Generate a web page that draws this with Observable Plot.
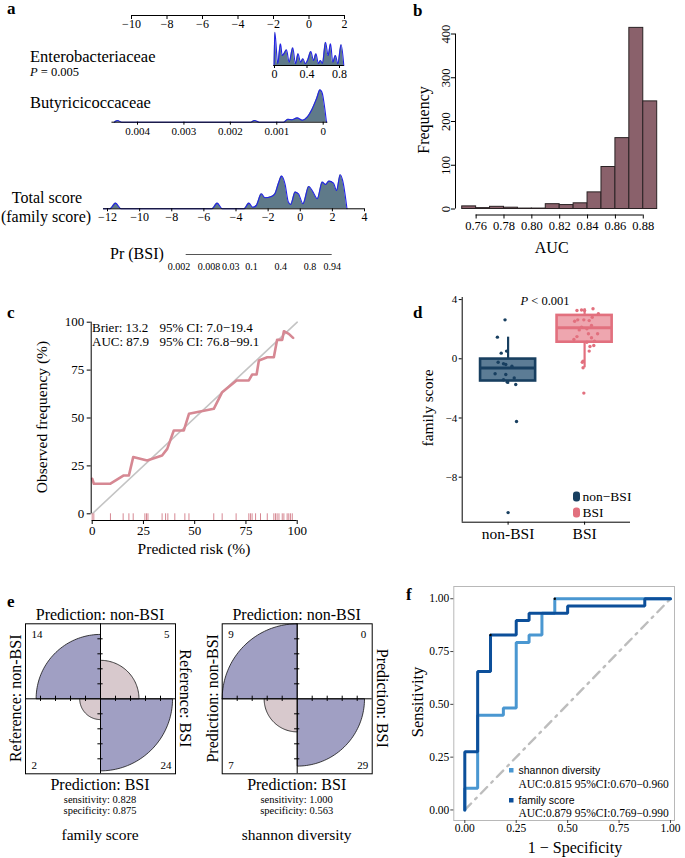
<!DOCTYPE html>
<html><head><meta charset="utf-8">
<script src="https://cdn.jsdelivr.net/npm/d3@7"></script>
<script src="https://cdn.jsdelivr.net/npm/@observablehq/plot@0.6"></script>
<style>
html,body{margin:0;padding:0;background:#fff}
#fig{position:relative;width:685px;height:858px;overflow:hidden;background:#fff}
</style></head><body><div id="fig"></div>
<script>
// ================= DATA =================
// --- a: nomogram ---
const pointsTicks = [-10, -8, -6, -4, -2, 0, 2];
const enteroValue   = [-0.005, 0.004, 0.04, 0.074, 0.095, 0.115, 0.148, 0.18, 0.225, 0.258, 0.29, 0.32, 0.35, 0.38, 0.41, 0.447, 0.48, 0.51, 0.54, 0.566, 0.59, 0.628, 0.66, 0.69, 0.717, 0.75, 0.78, 0.82, 0.853];
const enteroDensity = [0, 33.3, 2, 21.7, 10, 11.7, 15.7, 3.3, 17.7, 1.7, 11.7, 3.3, 6.7, 1.7, 5.7, 14, 5, 11.7, 2, 5, 2, 23.3, 10, 21.7, 3.3, 10, 1.7, 20.7, 0];
const enteroTicks = [0, 0.4, 0.8];
const enteroAxis = [-0.01, 0.86];
const butyrValue   = [0.0045, 0.00443, 0.00434, 0.00156, 0.00148, 0.00138, 0.00085, 0.00076, 0.00067, 0.00056, 0.00045, 0.00034, 0.00024, 0.00014, 0.00007, 0.00002, -0.00003, -0.00007];
const butyrDensity = [0, 1.7, 0, 0, 1.7, 0, 0, 3, 2.5, 4.3, 2, 5.3, 13, 24, 32.3, 29, 15, 0];
const butyrTicks = [0.004, 0.003, 0.002, 0.001, 0];
const butyrAxis = [0.00455, -0.0001];
const totalValue   = [-12.25, -11.85, -11.5, -11.15, -5.5, -5.17, -4.85, -3.5, -3.2, -2.95, -2.74, -2.42, -2.2, -1.79, -1.58, -1.37, -1.16, -0.95, -0.74, -0.6, -0.32, -0.11, 0.17, 0.53, 0.8, 1.06, 1.37, 1.58, 1.79, 2.07, 2.26, 2.49, 2.64, 2.91];
const totalDensity = [0, 0, 5.7, 0, 0, 5.7, 0, 0, 5.7, 1.5, 3.3, 15, 11, 12.3, 15, 25, 32.7, 25, 6.7, 4.3, 16.7, 15, 5, 22.3, 16.7, 10, 26.7, 24.3, 27.7, 25.7, 18.3, 34, 28.3, 0];
const totalTicks = [-12, -10, -8, -6, -4, -2, 0, 2, 4];
const totalAxis = [-12.25, 4];
const prTicks = [0.002, 0.008, 0.03, 0.1, 0.4, 0.8, 0.94];

// --- b: bootstrap AUC histogram ---
const aucBinStart = [0.75, 0.76, 0.77, 0.78, 0.79, 0.80, 0.81, 0.82, 0.83, 0.84, 0.85, 0.86, 0.87, 0.88];
const aucBinWidth = 0.01;
const aucCounts = [6, 2, 5, 3, 1, 1, 11, 9, 13, 38, 96, 162, 414, 246];
const aucTicks = [0.76, 0.78, 0.80, 0.82, 0.84, 0.86, 0.88];
const freqTicks = [0, 100, 200, 300, 400];

// --- c: calibration ---
const calPred = [0, 0.8, 8.9, 15.4, 17.9, 20, 26.8, 34.1, 36.6, 39.8, 44.7, 47.2, 59.3, 63.4, 70.4, 76.4, 78, 80.2, 81.3, 85.4, 88.6, 90.2, 92.7, 93.5, 95.9, 98];
const calObs  = [18.3, 15.7, 15.7, 20, 20, 29.6, 27.8, 30.4, 33.9, 43.5, 43.5, 52.2, 54.8, 63.5, 69.6, 69.6, 72.7, 72.7, 80, 81.7, 81.7, 90.8, 90.8, 95.3, 93.9, 91.8];
const rugRisk = [0, 0.8, 8.9, 15.1, 17.9, 20, 25.7, 26.5, 27.2, 34.1, 35.8, 36.9, 40.3, 45.2, 47.2, 59.3, 63.4, 70.2, 76.4, 77.2, 78, 79.7, 82.1, 85.4, 88.6, 89.4, 90.2, 91.1, 92.7, 93.5, 95.1, 95.9, 96.7, 97.6];
const calTicks = [0, 25, 50, 75, 100];

// --- d: family score by group ---
const dGroups = ["non-BSI", "BSI"];
const dQ1  = [-1.5, 1.12];
const dMed = [-0.63, 2.1];
const dQ3  = [-0.02, 2.93];
const dLo  = [-1.72, -0.61];
const dHi  = [1.46, 3.38];
const nonBsiScore  = [2.63, 1.46, 0.52, 0.38, -0.23, -0.34, -0.39, -0.5, -1.01, -1.06, -1.3, -1.42, -1.58, -1.74, -4.24, -10.39];
const nonBsiJitter = [-0.04, -0.14, -0.02, -0.09, -0.13, -0.06, -0.03, 0.05, -0.17, -0.03, 0.08, -0.06, -0.01, 0.10, 0.11, 0.00];
const bsiScore  = [3.26, 3.30, 3.26, 3.38, 3.05, 2.54, 2.63, 2.63, 2.58, 2.25, 2.14, 2.03, 1.69, 1.5, 1.69, 1.42, 1.19, 1.12, 0.83, 0.9, 0.52, -0.16, -0.23, -0.61, -2.32, 1.95, 2.81, 1.3];
const bsiJitter = [-0.10, -0.04, 0.0, 0.11, 0.18, -0.13, -0.09, -0.01, 0.06, 0.09, -0.04, 0.03, 0.05, -0.10, 0.17, 0.09, 0.13, 0.03, 0.07, 0.12, 0.06, -0.02, -0.03, -0.02, -0.01, -0.07, 0.10, -0.14];
const dTicks = [-8, -4, 0, 4];

// --- e: fourfold (TL, TR, BL, BR) ---
const famCounts  = [14, 5, 2, 24];
const shanCounts = [9, 0, 7, 29];

// --- f: ROC ---
const famFpr  = [0, 0, 0.0625, 0.0625, 0.125, 0.125, 0.25, 0.25, 0.3125, 0.3125, 0.5, 0.5, 0.875, 0.875, 1];
const famTpr  = [0, 0.276, 0.276, 0.655, 0.655, 0.828, 0.828, 0.897, 0.897, 0.931, 0.931, 0.966, 0.966, 1, 1];
const shanFpr = [0, 0, 0.0625, 0.0625, 0.1875, 0.1875, 0.25, 0.25, 0.3125, 0.3125, 0.375, 0.375, 0.4375, 0.4375, 1];
const shanTpr = [0, 0.103, 0.103, 0.448, 0.448, 0.483, 0.483, 0.793, 0.793, 0.828, 0.828, 0.931, 0.931, 1, 1];
const cutFpr = [0.4375, 0.125];
const cutTpr = [1, 0.828];
const rocTicks = [0, 0.25, 0.5, 0.75, 1];

// ================= RENDER =================
const W = 685, H = 858;
const FONT = '"Liberation Serif","Times New Roman",Times,serif';
const SANS = '"Liberation Sans",Arial,Helvetica,sans-serif';
const fig = document.getElementById("fig");
function box(x0, x1, y0, y1) {
  return {width: W, height: H, marginLeft: x0, marginRight: W - x1, marginTop: y0, marginBottom: H - y1};
}
function add(opts) {
  const svg = Plot.plot({...opts, style: `position:absolute;left:0;top:0;background:transparent;overflow:visible;font-family:${FONT};font-size:12px;color:#000;`});
  fig.appendChild(svg);
}
const minus = d => (d < 0 ? "\u2212" + Math.abs(d) : String(d));
const zip = (xs, ys) => xs.map((x, i) => ({x, y: ys[i]}));
const logit = p => Math.log(p / (1 - p));

const DFILL = "#5f7a89", DLINE = "#2222e8";

// ---- a ----
add({...box(131, 344, 10, 15), x: {domain: [pointsTicks[0], pointsTicks[pointsTicks.length - 1]], label: null}, y: {domain: [0, 1], axis: null, label: null},
  marks: [
    Plot.ruleY([0], {x1: pointsTicks[0], x2: pointsTicks[pointsTicks.length - 1]}),
    Plot.axisX(pointsTicks, {anchor: "bottom", tickSize: 4, tickPadding: 0, fontSize: 12, tickFormat: minus, label: null})
  ]});

const entero = zip(enteroValue, enteroDensity);
add({...box(274, 339, 31, 65), x: {domain: [0, 0.8], label: null}, y: {domain: [0, 34], axis: null, label: null},
  marks: [
    Plot.areaY(entero, {x: "x", y: "y", fill: DFILL, curve: "monotone-x"}),
    Plot.lineY(entero, {x: "x", y: "y", stroke: DLINE, strokeWidth: 1.1, curve: "monotone-x"}),
    Plot.ruleY([0], {x1: enteroAxis[0], x2: enteroAxis[1]}),
    Plot.axisX(enteroTicks, {tickSize: 3, tickPadding: 1, fontSize: 12, tickFormat: d => String(d), label: null})
  ]});

const butyr = zip(butyrValue, butyrDensity);
add({...box(137, 322.7, 87.7, 121.7), x: {domain: [0.004, 0], label: null}, y: {domain: [0, 34], axis: null, label: null},
  marks: [
    Plot.areaY(butyr, {x: "x", y: "y", fill: DFILL, curve: "monotone-x"}),
    Plot.lineY(butyr, {x: "x", y: "y", stroke: DLINE, strokeWidth: 1.1, curve: "monotone-x"}),
    Plot.ruleY([0], {x1: butyrAxis[0], x2: butyrAxis[1]}),
    Plot.axisX(butyrTicks, {tickSize: 3, tickPadding: 2, fontSize: 11, tickFormat: d => (d === 0 ? "0" : d.toFixed(3)), label: null})
  ]});

const total = zip(totalValue, totalDensity);
add({...box(107, 364, 174.3, 208.3), x: {domain: [totalTicks[0], totalTicks[totalTicks.length - 1]], label: null}, y: {domain: [0, 34], axis: null, label: null},
  marks: [
    Plot.areaY(total, {x: "x", y: "y", fill: DFILL, curve: "monotone-x"}),
    Plot.lineY(total, {x: "x", y: "y", stroke: DLINE, strokeWidth: 1.1, curve: "monotone-x"}),
    Plot.ruleY([0], {x1: totalAxis[0], x2: totalAxis[1]}),
    Plot.axisX(totalTicks, {tickSize: 3, tickPadding: 1, fontSize: 12, tickFormat: minus, label: null})
  ]});

const prObjs = prTicks.map(p => ({p, lx: logit(p)}));
add({...box(185.7, 331.7, 250, 254), x: {domain: [logit(prTicks[0]), logit(prTicks[prTicks.length - 1])], axis: null, label: null}, y: {domain: [0, 1], axis: null, label: null},
  marks: [
    Plot.ruleY([0], {x1: prObjs[0].lx, x2: prObjs[prObjs.length - 1].lx, stroke: "#555"}),
    Plot.text(prObjs.slice(0, 1), {x: "lx", y: 0, text: d => String(d.p), dy: 12, dx: 4, textAnchor: "end", fontSize: 10}),
    Plot.text(prObjs.slice(1), {x: "lx", y: 0, text: d => String(d.p), dy: 12, fontSize: 10})
  ]});

// ---- b ----
const bins = aucBinStart.map((s, i) => ({x1: s, x2: s + aucBinWidth, n: aucCounts[i]}));
add({...box(461.7, 656.7, 33.5, 208.5), x: {domain: [0.75, 0.89], label: null}, y: {domain: [0, 400], label: null},
  marks: [
    Plot.rectY(bins, {x1: "x1", x2: "x2", y: "n", fill: "#8a616b", stroke: "#2a2224", strokeWidth: 1}),
    Plot.ruleY([0], {x1: aucTicks[0], x2: aucTicks[aucTicks.length - 1], dy: 6}),
    Plot.axisX(aucTicks, {dy: 6, tickSize: 4, tickPadding: 2, fontSize: 12.5, tickFormat: d => d.toFixed(2), label: null}),
    Plot.ruleX([0.75], {y1: freqTicks[0], y2: freqTicks[freqTicks.length - 1], dx: -6.7}),
    Plot.axisY(freqTicks, {dx: -6.7, tickSize: 4, tickPadding: 2, tickRotate: -90, fontSize: 12.5, label: null})
  ]});

// ---- c ----
const PINK = "#d68893";
add({...box(91.7, 296.7, 321.7, 513.3), x: {domain: [0, 100], label: null}, y: {domain: [0, 100], label: null},
  marks: [
    Plot.line([{x: 0, y: 0}, {x: 100, y: 100}], {x: "x", y: "y", stroke: "#c4c4c4", strokeWidth: 1.6}),
    Plot.line(zip(calPred, calObs), {x: "x", y: "y", stroke: PINK, strokeWidth: 2.6}),
    Plot.ruleX(rugRisk, {x: d => d, y1: 0, y2: 0, insetBottom: -6.7, stroke: PINK, strokeWidth: 1}),
    Plot.ruleY([0], {x1: 0, x2: 100, dy: 6.7}),
    Plot.axisX(calTicks, {dy: 6.7, tickSize: 4, tickPadding: 1, fontSize: 13, label: null}),
    Plot.ruleX([0], {y1: 0, y2: 100, dx: -1}),
    Plot.axisY(calTicks, {dx: -1, tickSize: 4, tickPadding: 3, fontSize: 13, label: null})
  ]});

// ---- d ----
const NAVY = "#183f60", NAVYF = "#5c7c95", RED = "#e2707e", REDF = "#eea6af";
const stats = dGroups.map((g, i) => ({g: i + 1, q1: dQ1[i], med: dMed[i], q3: dQ3[i], lo: dLo[i], hi: dHi[i],
  stroke: i === 0 ? NAVY : RED, fill: i === 0 ? NAVYF : REDF}));
const pts = [
  ...nonBsiScore.map((v, i) => ({g: 1, j: nonBsiJitter[i], v})),
  ...bsiScore.map((v, i) => ({g: 2, j: bsiJitter[i], v}))
];
const HW = 0.36;
add({...box(461.7, 630, 297, 521.7), x: {domain: [0.4, 2.6], label: null}, y: {domain: [-11.04, 4.14], label: null},
  marks: [
    Plot.ruleX([0.4]),
    Plot.ruleY([-11.04]),
    Plot.axisY(dTicks, {tickSize: 3, tickPadding: 2, fontSize: 11, tickFormat: minus, label: null}),
    Plot.axisX([1, 2], {tickSize: 3, tickPadding: 3, fontSize: 15.5, tickFormat: d => dGroups[d - 1], label: null}),
    Plot.ruleX(stats, {x: "g", y1: "lo", y2: "q1", stroke: d => d.stroke, strokeWidth: 2.2}),
    Plot.ruleX(stats, {x: "g", y1: "q3", y2: "hi", stroke: d => d.stroke, strokeWidth: 2.2}),
    Plot.rect(stats, {x1: d => d.g - HW, x2: d => d.g + HW, y1: "q1", y2: "q3", fill: d => d.fill, stroke: d => d.stroke, strokeWidth: 2.6}),
    Plot.ruleY(stats, {y: "med", x1: d => d.g - HW, x2: d => d.g + HW, stroke: d => d.stroke, strokeWidth: 3}),
    Plot.dot(pts, {x: d => d.g + d.j, y: "v", r: 1.7, fill: d => (d.g === 1 ? NAVY : RED), stroke: null})
  ]});

// ---- e ----
const DIAG = "#a09fc3", OFF = "#d8c9cd";
function quadrants(counts) {
  const top = counts[0] + counts[1], bot = counts[2] + counts[3];
  const props = [counts[0] / top, counts[1] / top, counts[2] / bot, counts[3] / bot];
  const start = [90, 0, 180, 270];
  const out = [];
  props.forEach((p, q) => {
    const r = Math.sqrt(p);
    out.push({q, x: 0, y: 0});
    for (let a = 0; a <= 90; a += 2) {
      const t = (start[q] + a) * Math.PI / 180;
      out.push({q, x: r * Math.cos(t), y: r * Math.sin(t)});
    }
    out.push({q, x: 0, y: 0});
  });
  return out;
}
const ffTicks = [-0.8, -0.6, -0.4, -0.2, 0.2, 0.4, 0.6, 0.8];
function fourfold(x0, counts) {
  const q = quadrants(counts);
  add({...box(x0, x0 + 150, 623.3, 773.3), x: {domain: [-1, 1], axis: null, label: null}, y: {domain: [-1, 1], axis: null, label: null},
    marks: [
      Plot.line(q.filter(d => d.q === 0 || d.q === 3), {x: "x", y: "y", z: "q", fill: DIAG, stroke: "#111", strokeWidth: 0.8}),
      Plot.line(q.filter(d => d.q === 1 || d.q === 2), {x: "x", y: "y", z: "q", fill: OFF, stroke: "#111", strokeWidth: 0.8}),
      Plot.frame({stroke: "#000", strokeWidth: 1}),
      Plot.ruleX([0], {stroke: "#000"}),
      Plot.ruleY([0], {stroke: "#000"}),
      Plot.ruleX(ffTicks, {x: d => d, y1: -0.035, y2: 0.035, stroke: "#000"}),
      Plot.ruleY(ffTicks, {y: d => d, x1: -0.035, x2: 0.035, stroke: "#000"}),
      Plot.text([counts[0]], {text: d => String(d), frameAnchor: "top-left", dx: 6, dy: 6, fontSize: 11}),
      Plot.text([counts[1]], {text: d => String(d), frameAnchor: "top-right", dx: -6, dy: 6, fontSize: 11}),
      Plot.text([counts[2]], {text: d => String(d), frameAnchor: "bottom-left", dx: 6, dy: -5, fontSize: 11}),
      Plot.text([counts[3]], {text: d => String(d), frameAnchor: "bottom-right", dx: -4, dy: -5, fontSize: 11})
    ]});
}
fourfold(25, famCounts);
fourfold(221.7, shanCounts);

// ---- f ----
const LBLUE = "#4a97d1", DBLUE = "#0c4f9a";
add({...box(453.3, 674, 586, 820), x: {domain: [-0.0535, 1.0195], label: null}, y: {domain: [-0.05, 1.058], label: null},
  marks: [
    Plot.frame({stroke: "#b8b8b8"}),
    Plot.axisX(rocTicks, {tickSize: 3, tickPadding: 0.5, fontSize: 11.5, stroke: "#444", tickFormat: d => d.toFixed(2), label: null}),
    Plot.axisY(rocTicks, {tickSize: 3, tickPadding: 1.5, fontSize: 11.5, stroke: "#444", tickFormat: d => d.toFixed(2), label: null}),
    Plot.line([{x: 0, y: 0}, {x: 1, y: 1}], {x: "x", y: "y", stroke: "#bdbdbd", strokeWidth: 2.4, strokeDasharray: "9,6,2,6"}),
    Plot.line(zip(shanFpr, shanTpr), {x: "x", y: "y", stroke: LBLUE, strokeWidth: 3, strokeLinejoin: "miter"}),
    Plot.line(zip(famFpr, famTpr), {x: "x", y: "y", stroke: DBLUE, strokeWidth: 3, strokeLinejoin: "miter"}),
    Plot.dot(zip(cutFpr, cutTpr), {x: "x", y: "y", r: 1.2, fill: "#000", stroke: null})
  ]});

// ================= TEXT OVERLAY =================
const ov = d3.select(fig).append("svg").attr("width", W).attr("height", H)
  .attr("style", `position:absolute;left:0;top:0;overflow:visible;font-family:${FONT}`);
function T(x, y, parts, o = {}) {
  const t = ov.append("text").attr("x", x).attr("y", y).attr("font-size", o.size || 15)
    .attr("text-anchor", o.anchor || "start").attr("fill", o.fill || "#000");
  if (o.weight) t.attr("font-weight", o.weight);
  if (o.family) t.attr("font-family", o.family);
  if (o.baseline) t.attr("dominant-baseline", o.baseline);
  if (o.rotate) t.attr("transform", `rotate(${o.rotate},${x},${y})`);
  (Array.isArray(parts) ? parts : [[parts]]).forEach(([s, it]) => {
    const sp = t.append("tspan").text(s);
    if (it) sp.attr("font-style", "italic");
  });
}
// panel letters
T(7, 14, "a", {size: 17, weight: "bold"});
T(413, 16, "b", {size: 17, weight: "bold"});
T(7, 318, "c", {size: 17, weight: "bold"});
T(413, 318, "d", {size: 17, weight: "bold"});
T(7, 607, "e", {size: 17, weight: "bold"});
T(406, 600, "f", {size: 17, weight: "bold"});

// a
T(30, 61.5, "Enterobacteriaceae", {size: 16.5});
T(30, 75.5, [["P", true], [" = 0.005"]], {size: 12.5});
T(30, 108, "Butyricicoccaceae", {size: 16.5});
T(47, 202.5, "Total score", {size: 16, anchor: "middle"});
T(46, 221.5, "(family score)", {size: 16, anchor: "middle"});
T(110, 258.5, "Pr (BSI)", {size: 16});

// b
T(423, 120, "Frequency", {size: 16, anchor: "middle", baseline: "central", rotate: -90});
T(551.7, 253, "AUC", {size: 16, anchor: "middle"});

// c
T(92, 332, "Brier: 13.2", {size: 13});
T(159.5, 332, "95% CI: 7.0\u221219.4", {size: 13});
T(92, 346, "AUC: 87.9", {size: 13});
T(159.5, 346, "95% CI: 76.8\u221299.1", {size: 13});
T(41, 417, "Observed frequency (%)", {size: 15.5, anchor: "middle", baseline: "central", rotate: -90});
T(194, 554, "Predicted risk (%)", {size: 15.5, anchor: "middle"});

// d
T(545, 304.5, [["P", true], [" < 0.001"]], {size: 12.5, anchor: "middle"});
T(427, 408, "family score", {size: 15.5, anchor: "middle", baseline: "central", rotate: -90});
ov.append("rect").attr("x", 573).attr("y", 491.5).attr("width", 7).attr("height", 10).attr("rx", 3).attr("fill", NAVY);
ov.append("rect").attr("x", 573).attr("y", 507.5).attr("width", 7).attr("height", 10).attr("rx", 3).attr("fill", RED);
T(582.5, 501, "non\u2212BSI", {size: 13.5});
T(582.5, 517, "BSI", {size: 13.5});

// e
function ffLabels(cx, top, left, right, bottom, sens, spec, name) {
  T(cx, 619.5, top, {size: 16, anchor: "middle"});
  T(cx, 789.5, bottom, {size: 16, anchor: "middle"});
  T(cx - 85, 698.3, left, {size: 16, anchor: "middle", baseline: "central", rotate: -90});
  T(cx + 86, 698.3, right, {size: 16, anchor: "middle", baseline: "central", rotate: 90});
  T(cx, 802.5, "sensitivity: " + sens, {size: 10.5, anchor: "middle"});
  T(cx, 813.5, "specificity: " + spec, {size: 10.5, anchor: "middle"});
  T(cx, 840, name, {size: 15.5, anchor: "middle"});
}
ffLabels(100, "Prediction: non-BSI", "Reference: non-BSI", "Reference: BSI", "Prediction: BSI", "0.828", "0.875", "family score");
ffLabels(296.7, "Prediction: non-BSI", "Prediction: non-BSI", "Prediction: BSI", "Prediction: BSI", "1.000", "0.563", "shannon diversity");

// f
T(417, 702, "Sensitivity", {size: 16.5, anchor: "middle", baseline: "central", rotate: -90});
T(575, 852.5, "1 \u2212 Specificity", {size: 16, anchor: "middle"});
ov.append("rect").attr("x", 509).attr("y", 768).attr("width", 4.5).attr("height", 4.5).attr("fill", LBLUE);
ov.append("rect").attr("x", 509).attr("y", 798).attr("width", 4.5).attr("height", 4.5).attr("fill", DBLUE);
T(518.5, 773.5, "shannon diversity", {size: 10.5, family: SANS});
T(518.5, 787.5, "AUC:0.815 95%CI:0.670\u22120.960", {size: 11.5});
T(518.5, 804, "family score", {size: 10.5, family: SANS});
T(518.5, 817, "AUC:0.879 95%CI:0.769\u22120.990", {size: 11.5});
</script>
</body></html>
